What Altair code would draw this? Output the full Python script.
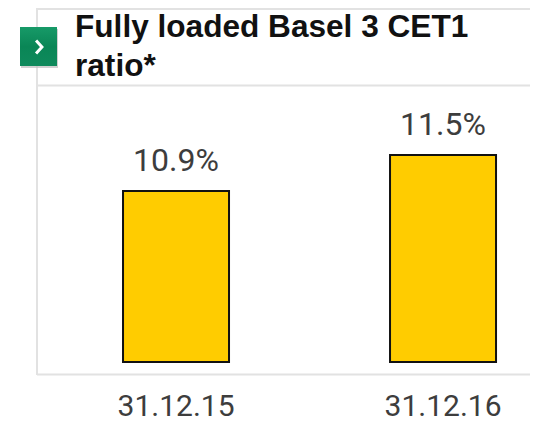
import altair as alt
import pandas as pd

dates = ["31.12.15", "31.12.16"]
ratios = [10.9, 11.5]
labels = ["10.9%", "11.5%"]
title_lines = ["Fully loaded Basel 3 CET1", "ratio*"]

TEXT = "#3d3d3d"
FONT = "Roboto"
FRAME = "#e2e2e2"
BASE = 8.05

df = pd.DataFrame({"date": dates, "ratio": ratios, "label": labels, "base": [BASE, BASE]})
one = pd.DataFrame({"a": [0]})

x = alt.X("date:N", sort=dates, title=None,
          scale=alt.Scale(paddingInner=0.603, paddingOuter=0.279, align=0.772),
          axis=alt.Axis(labelAngle=0, domain=False, ticks=False, grid=False,
                        labelFont=FONT, labelFontSize=30, labelColor=TEXT,
                        labelPadding=53, labelBaseline="alphabetic"))
y = alt.Y("ratio:Q", title=None, scale=alt.Scale(domain=[BASE, 13.95], zero=False, nice=False), axis=None)

def frame(**enc):
    return alt.Chart(one).mark_rule(color=FRAME, strokeWidth=2).encode(**enc)

frames = [
    frame(x=alt.value(29), x2=alt.value(522), y=alt.value(1)),
    frame(x=alt.value(29), x2=alt.value(522), y=alt.value(77.5)),
    frame(x=alt.value(29), x2=alt.value(522), y=alt.value(366.5)),
    frame(x=alt.value(29), y=alt.value(0), y2=alt.value(367)),
]

bars = alt.Chart(df).mark_bar(color="#ffcc00", stroke="#111111", strokeWidth=2).encode(
    x=x, y=y, y2="base:Q")
values = alt.Chart(df).mark_text(font=FONT, fontSize=32, color=TEXT, baseline="alphabetic", dy=-20).encode(
    x=alt.X("date:N", sort=dates), y=alt.Y("ratio:Q"), text="label:N")

shadow = alt.Chart(one).mark_rect(color="#bdbdbd", opacity=0.7).encode(
    x=alt.value(13), x2=alt.value(50), y=alt.value(21), y2=alt.value(60))
button = alt.Chart(one).mark_rect(
    color=alt.Gradient(gradient="linear", x1=0, y1=0, x2=0, y2=1,
                       stops=[alt.GradientStop(color="#179a68", offset=0),
                              alt.GradientStop(color="#0a8656", offset=0.5),
                              alt.GradientStop(color="#0f8a5c", offset=1)])
).encode(x=alt.value(12), x2=alt.value(49), y=alt.value(19), y2=alt.value(58))
chevron = alt.Chart(one).mark_point(
    shape="M-0.45,-1L0.45,0L-0.45,1", filled=False, stroke="white", strokeWidth=3, size=169, opacity=1
).encode(x=alt.value(31), y=alt.value(39))

titles = [
    alt.Chart(one).mark_text(text=t, font="Liberation Sans", fontWeight="bold", fontSize=31.6,
                             color="#111111", align="left", baseline="alphabetic").encode(
        x=alt.value(67), y=alt.value(yy))
    for t, yy in zip(title_lines, [29, 68])
]

chart = alt.layer(
    *frames, bars, values, shadow, button, chevron, *titles
).properties(
    width=522, height=354,
    padding={"left": 0, "top": 0, "right": 0, "bottom": 60},
    autosize=alt.AutoSizeParams(type="none"),
).configure_view(stroke=None)

chart.save("out.html", embed_options={"renderer": "svg", "actions": False})
